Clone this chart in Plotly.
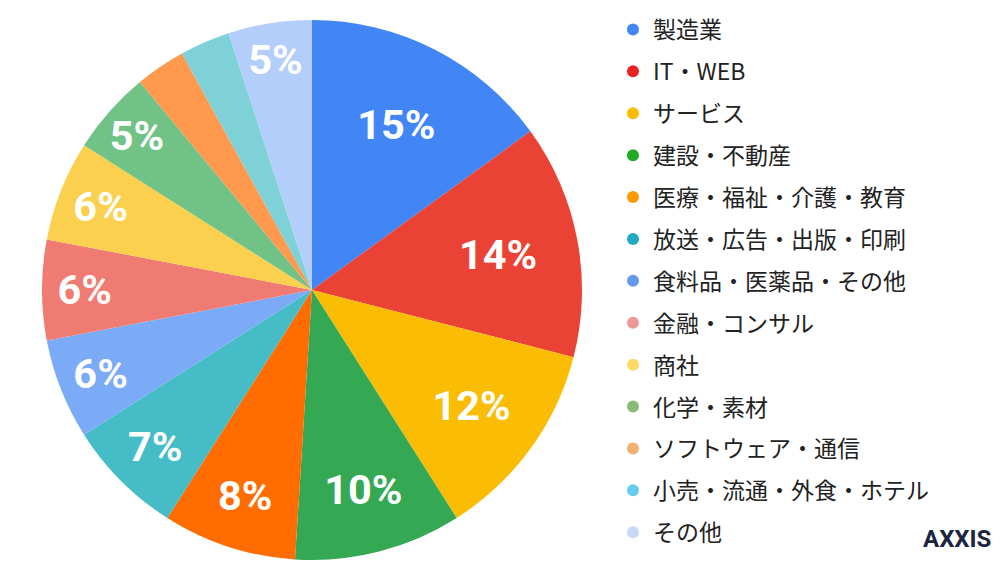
import plotly.graph_objects as go

labels = ["製造業", "IT・WEB", "サービス", "建設・不動産", "医療・福祉・介護・教育",
          "放送・広告・出版・印刷", "食料品・医薬品・その他", "金融・コンサル", "商社",
          "化学・素材", "ソフトウェア・通信", "小売・流通・外食・ホテル", "その他"]
values = [15, 14, 12, 10, 8, 7, 6, 6, 6, 5, 3, 3, 5]
colors = ["#4285F4", "#EA4335", "#FBBC04", "#34A853", "#FF6D01", "#46BDC6", "#7BAAF7",
          "#F07B72", "#FCD04F", "#71C287", "#FF994D", "#7ED1D7", "#B3CEFB"]
legend_colors = ["#4285F4", "#EE2222", "#FBBC04", "#22AA22", "#FF9900", "#22AAC0", "#6699EE",
                 "#EE9999", "#FFD966", "#88BB77", "#F0B070", "#66CCEE", "#C8D8F8"]

text = [f"{v}%" if v >= 5 else "" for v in values]

fig = go.Figure()
fig.add_trace(go.Pie(
    labels=labels, values=values, text=text, textinfo="text", textposition="inside",
    sort=False, direction="clockwise", rotation=0,
    marker=dict(colors=colors, line=dict(width=0)),
    textfont=dict(family="Roboto, Arial", size=46, color="white", weight="bold"),
    insidetextorientation="horizontal", showlegend=False,
    domain=dict(x=[0.034, 0.574], y=[0.02, 0.98]),
    hoverinfo="label+percent",
))
for lab, c in zip(labels, legend_colors):
    fig.add_trace(go.Scatter(x=[None], y=[None], mode="markers", name=lab, legendgroup=lab,
                             marker=dict(symbol="circle", size=22, color=c)))

fig.update_layout(
    width=1000, height=564, paper_bgcolor="white", plot_bgcolor="white",
    margin=dict(l=0, r=0, t=0, b=0),
    uniformtext=dict(mode="show", minsize=40),
    xaxis=dict(visible=False), yaxis=dict(visible=False),
    legend=dict(x=0.605, y=1.0, xanchor="left", yanchor="top",
                font=dict(family="Noto Sans CJK JP", size=23, color="#222"),
                itemsizing="constant", tracegroupgap=9, bgcolor="rgba(0,0,0,0)"),
    annotations=[dict(text="<b>AXXIS</b>", x=0.985, y=0.03, xref="paper", yref="paper",
                      xanchor="right", yanchor="bottom", showarrow=False,
                      font=dict(family="Roboto", size=24, color="#1a2540"))],
)
fig.write_html("out.html")
